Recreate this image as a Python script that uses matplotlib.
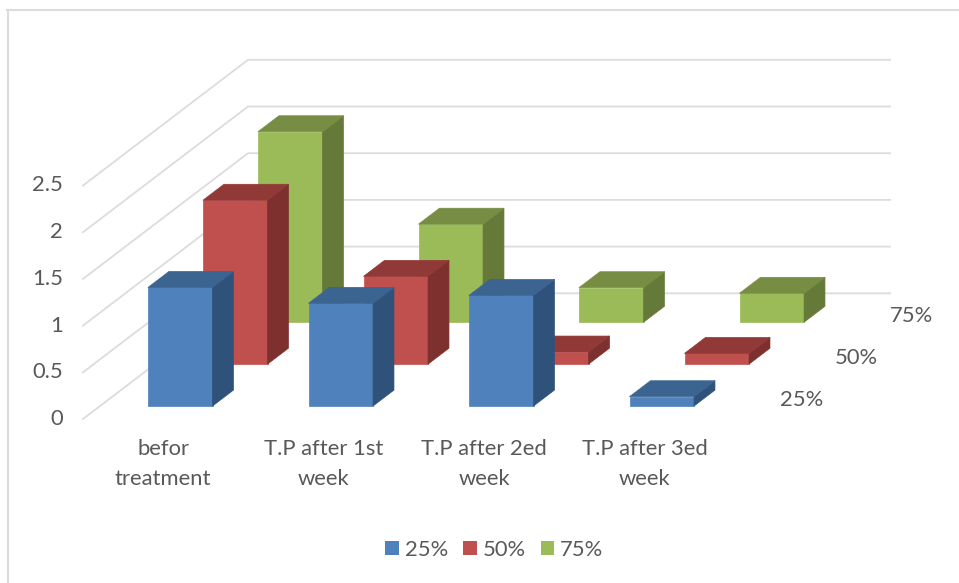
import matplotlib
matplotlib.use("Agg")
import matplotlib.pyplot as plt
from matplotlib.lines import Line2D
from matplotlib.patches import Patch, Polygon
from matplotlib.transforms import ScaledTranslation

categories = ["befor\ntreatment", "T.P after 1st\nweek", "T.P after 2ed\nweek", "T.P after 3ed\nweek"]
series_names = ["25%", "50%", "75%"]
values_25 = [1.27, 1.10, 1.185, 0.10]
values_50 = [1.755, 0.94, 0.13, 0.115]
values_75 = [2.04, 1.05, 0.37, 0.31]
y_ticks = [0, 0.5, 1, 1.5, 2, 2.5]
y_tick_labels = ["0", "0.5", "1", "1.5", "2", "2.5"]

front_colors = ["#4F81BD", "#C0504D", "#9BBB59"]
top_colors = ["#3C6491", "#913937", "#768D43"]
side_colors = ["#2F527B", "#7D302E", "#657A39"]
grid_color = "#DCDCDC"
text_color = "#595959"

# oblique projection: one depth row moves a point this far in x and value units
depth_x = 0.3427
depth_y = 0.4486
bar_width = 0.402
bar_depth = 0.38
label_size = 15.8


def project(x, v, d):
    return (x + d * depth_x, v + d * depth_y)


def draw_bar(ax, center, row, value, color_idx):
    x0, x1 = center - bar_width / 2, center + bar_width / 2
    d0 = row + (1 - bar_depth) / 2
    d1 = d0 + bar_depth
    faces = [
        ([(x0, 0, d0), (x1, 0, d0), (x1, value, d0), (x0, value, d0)], front_colors),
        ([(x1, 0, d0), (x1, 0, d1), (x1, value, d1), (x1, value, d0)], side_colors),
        ([(x0, value, d0), (x1, value, d0), (x1, value, d1), (x0, value, d1)], top_colors),
    ]
    for pts, colors in faces:
        ax.add_patch(Polygon([project(*p) for p in pts], closed=True,
                             facecolor=colors[color_idx], edgecolor=colors[color_idx],
                             linewidth=0.5, joinstyle="round", zorder=3))


fig = plt.figure(figsize=(9.59, 5.83), dpi=100)
plt.rcParams["font.family"] = ["Lato", "DejaVu Sans"]

ax = fig.add_axes([83 / 959, 164 / 583, 807 / 959, 359.2 / 583])
n_rows = len(series_names)
floor_w = len(categories)
ax.set_xlim(0, floor_w + n_rows * depth_x)
ax.set_ylim(0, 2.5 + n_rows * depth_y)
for s in ax.spines.values():
    s.set_visible(False)
ax.patch.set_alpha(0)

# side wall and back wall gridlines
for t in y_ticks:
    pts = [project(0, t, 0), project(0, t, n_rows), project(floor_w, t, n_rows)]
    ax.plot([p[0] for p in pts], [p[1] for p in pts], color=grid_color, lw=1.3,
            solid_joinstyle="miter", clip_on=False, zorder=1)

# back row first so nearer bars cover it
all_values = [values_25, values_50, values_75]
for row in range(n_rows - 1, -1, -1):
    for i, v in enumerate(all_values[row]):
        draw_bar(ax, i + 0.5, row, v, row)

ax.set_xticks([i + 0.5 for i in range(floor_w)])
ax.set_xticklabels(categories, fontsize=label_size, color=text_color, linespacing=1.6)
ax.set_yticks(y_ticks)
ax.set_yticklabels(y_tick_labels, fontsize=label_size, color=text_color)
ax.tick_params(axis="both", length=0)
ax.tick_params(axis="x", pad=14.5)
ax.tick_params(axis="y", pad=14.5)
for lab in ax.get_yticklabels():
    lab.set_transform(lab.get_transform() + ScaledTranslation(0, 2 / 100, fig.dpi_scale_trans))

# series names at the end of each depth row
for row, name in enumerate(series_names):
    x, y = project(floor_w, 0, row + 0.5)
    ax.text(x + 0.172, y - 0.02, name, fontsize=label_size, color=text_color, ha="left", va="center")

handles = [Patch(facecolor=c, edgecolor=c, linewidth=0) for c in front_colors]
fig.legend(handles, series_names, loc="center", bbox_to_anchor=(494.5 / 959, 1 - 550 / 583), ncol=3,
           frameon=False, fontsize=label_size, labelcolor=text_color, handlelength=0.62,
           handleheight=0.62, handletextpad=0.27, columnspacing=0.68, borderpad=0)

# chart area outline, only top and left show
fig.add_artist(Line2D([7.5 / 959, 7.5 / 959], [0, 1 - 10 / 583], color=grid_color, lw=1.5))
fig.add_artist(Line2D([7 / 959, 1], [1 - 10 / 583, 1 - 10 / 583], color=grid_color, lw=1.5))

fig.savefig("out.png", dpi=100)
